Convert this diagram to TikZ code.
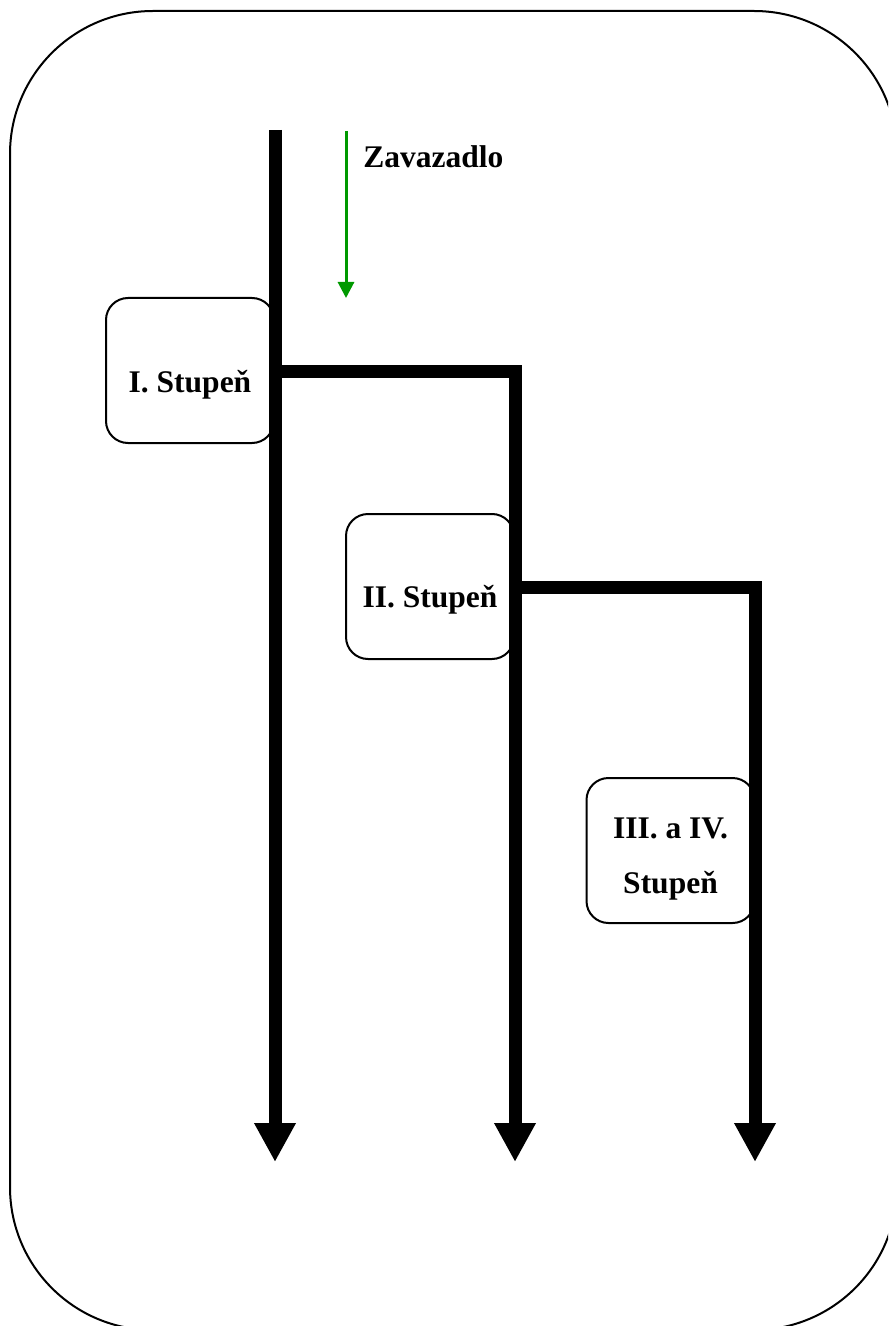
\documentclass[tikz,border=0pt]{standalone}
\usepackage{fontspec}
\setmainfont{Liberation Serif}
\usetikzlibrary{arrows.meta}
\newcommand{\XA}{275}
\newcommand{\XB}{515}
\newcommand{\XC}{755}
\newcommand{\YEND}{1162}
\definecolor{lugreen}{RGB}{0,153,0}

\begin{document}
\begin{tikzpicture}[
    x=0.5pt, y=-0.5pt,
    >={Triangle[length=19.5pt,width=19.5pt]},
    frame/.style={draw=black, line width=1pt, rounded corners=71.5pt},
    pipe/.style={draw=black, line width=6.5pt, line join=miter},
    stbox/.style={draw=black, fill=white, line width=1pt, rounded corners=11pt,
      minimum width=84pt, minimum height=72.5pt, inner sep=0pt, align=center,
      font=\bfseries\fontsize{15.75}{27.5}\selectfont, text depth=0pt},
    load/.style={draw=lugreen, line width=1.5pt, -{Triangle[length=8pt,width=8pt]}},
    tag/.style={font=\bfseries\fontsize{15.75}{19}\selectfont, inner sep=0pt},
  ]

  \useasboundingbox (0,0) rectangle (888,1326);
  \clip (0,0) rectangle (888,1326);
  \draw[frame] (10,11) rectangle (897,1330);

  % stages
  \node[stbox, text height=21.5pt] (st1) at (190,370.5) {I. Stupeň};
  \node[stbox, text height=20.5pt] (st2) at (430,586.5) {II. Stupeň};
  \node[stbox, text height=42.5pt] (st3) at (670.5,850.5) {III. a IV.\\Stupeň};

  \coordinate (a0) at (\XA,130);
  \coordinate (a1) at (\XA,\YEND);
  \coordinate (b0) at (\XA,371);
  \coordinate (b1) at (\XB,\YEND);
  \coordinate (c0) at (\XB,587);
  \coordinate (c1) at (\XC,\YEND);

  \draw[pipe,->] (a0) -- (a1);
  \draw[pipe,->] (b0) -| (b1);
  \draw[pipe,->] (c0) -| (c1);

  % luggage flow
  \coordinate (g0) at (346,131);
  \coordinate (g1) at (346,298);
  \draw[load] (g0) -- (g1);
  \node[tag, anchor=base west] (zav) at (363,168) {Zavazadlo};

\end{tikzpicture}
\end{document}
